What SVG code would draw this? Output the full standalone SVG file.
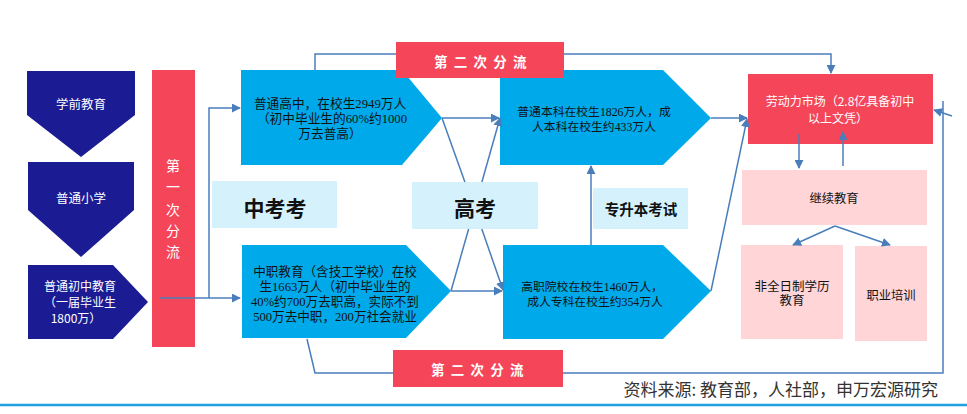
<svg xmlns="http://www.w3.org/2000/svg" width="967" height="414" viewBox="0 0 967 414">
<defs>
<marker id="ah" viewBox="0 0 10 10" refX="9" refY="5" markerWidth="9" markerHeight="9" markerUnits="userSpaceOnUse" orient="auto">
<path d="M0,0 L10,5 L0,10 z" fill="#4A7EBB"/>
</marker>
<style>
.navy{fill:#1B1B93}
.red{fill:#F54558}
.cyan{fill:#00A9EA}
.light{fill:#D5F2FC}
.pink{fill:#FFD5D8}
.wt{fill:#fff;font-family:"Noto Sans CJK SC","Liberation Sans",sans-serif;text-anchor:middle}
.bt{fill:#111;font-family:"Liberation Serif","Noto Sans CJK SC",serif;text-anchor:middle}
.big{fill:#111;font-family:"Noto Sans CJK SC",sans-serif;text-anchor:middle;font-weight:bold}
.c{fill:none;stroke:#4A7EBB;stroke-width:1.5}
.ca{fill:none;stroke:#4A7EBB;stroke-width:1.5;marker-end:url(#ah)}
</style>
</defs>
<rect width="967" height="414" fill="#fff"/>

<g id="xueqian">
<polygon class="navy" points="27,71 135,71 135,115 81,157 27,115"/>
<text class="wt" x="81" y="109" font-size="12.5">学前教育</text>
</g>
<g id="xiaoxue">
<polygon class="navy" points="28,162 134,162 134,210 81,257 28,210"/>
<text class="wt" x="81" y="203" font-size="12.5">普通小学</text>
</g>
<g id="chuzhong">
<polygon class="navy" points="28,265 113,265 148,302 113,339 28,339"/>
<text class="wt" x="80" y="291" font-size="12">普通初中教育</text>
<text class="wt" x="80" y="307" font-size="12">（一届毕业生</text>
<text class="wt" x="76" y="323" font-size="12">1800万）</text>
</g>
<g id="diyici">
<rect class="red" x="152" y="70" width="43" height="277"/>
<text class="wt" x="173" y="171" font-size="14">第</text>
<text class="wt" x="173" y="192" font-size="14">一</text>
<text class="wt" x="173" y="215" font-size="14">次</text>
<text class="wt" x="173" y="236" font-size="14">分</text>
<text class="wt" x="173" y="257" font-size="14">流</text>
</g>
<g id="putonggaozhong">
<polygon class="cyan" points="241,70 402,70 442,118 402,165 241,165"/>
<text class="bt" x="330" y="108" font-size="12.7">普通高中，在校生2949万人</text>
<text class="bt" x="332" y="123" font-size="12.7">（初中毕业生的60%约1000</text>
<text class="bt" x="330" y="138" font-size="12.7">万去普高）</text>
</g>
<g id="zhongzhi">
<polygon class="cyan" points="242,245 406,245 451,291 406,338 242,338"/>
<text class="bt" x="335" y="276" font-size="12.6">中职教育（含技工学校）在校</text>
<text class="bt" x="335" y="291" font-size="12.6">生1663万人（初中毕业生的</text>
<text class="bt" x="335" y="306" font-size="12.6">40%约700万去职高，实际不到</text>
<text class="bt" x="335" y="321" font-size="12.6">500万去中职，200万社会就业</text>
</g>
<g id="zhongkao">
<rect class="light" x="212" y="181" width="125" height="47"/>
<text class="big" x="275" y="216" font-size="21">中考考</text>
</g>
<g id="gaokao">
<rect class="light" x="412" y="182" width="126" height="47"/>
<text class="big" x="475" y="216" font-size="21">高考</text>
</g>
<g id="zhuanshengben">
<rect class="light" x="593" y="188" width="95" height="41"/>
<text class="big" x="641" y="215" font-size="14.5">专升本考试</text>
</g>
<g id="benke">
<polygon class="cyan" points="500,70 663,70 711,118 663,165 500,165"/>
<text class="bt" x="594" y="116" font-size="11.8">普通本科在校生1826万人，成</text>
<text class="bt" x="594" y="131" font-size="11.8">人本科在校生约433万人</text>
</g>
<g id="gaozhi">
<polygon class="cyan" points="503,245 663,245 711,291 663,339 503,339"/>
<text class="bt" x="592" y="291" font-size="11.8">高职院校在校生1460万人，</text>
<text class="bt" x="595" y="306" font-size="11.8">成人专科在校生约354万人</text>
</g>
<g id="dierci-top">
<rect class="red" x="396" y="42" width="168" height="36"/>
<text class="wt" x="481" y="67" font-size="13.5" font-weight="bold" letter-spacing="1.6">第 二 次 分 流</text>
</g>
<g id="dierci-bottom">
<rect class="red" x="393" y="350" width="170" height="37"/>
<text class="wt" x="478" y="375" font-size="13.5" font-weight="bold" letter-spacing="1.6">第 二 次 分 流</text>
</g>
<g id="laodongli">
<rect class="red" x="748" y="74" width="185" height="70"/>
<text class="wt" x="840" y="106" font-size="12">劳动力市场（2.8亿具备初中</text>
<text class="wt" x="838" y="123" font-size="12">以上文凭）</text>
</g>
<g id="jixu">
<rect class="pink" x="742" y="170" width="185" height="55"/>
<text class="bt" x="834" y="203" font-size="12.3">继续教育</text>
</g>
<g id="feiquanrizhi">
<rect class="pink" x="741" y="245" width="102" height="94"/>
<text class="bt" x="792" y="291" font-size="12.5">非全日制学历</text>
<text class="bt" x="792" y="305" font-size="12.5">教育</text>
</g>
<g id="zhiye">
<rect class="pink" x="855" y="246" width="72" height="95"/>
<text class="bt" x="891" y="300" font-size="12.3">职业培训</text>
</g>

<g id="connectors">
<path class="ca" d="M160,298 H240"/>
<path class="ca" d="M209,298 V108 H240"/>
<path class="ca" d="M442,118 H499"/>
<path class="ca" d="M451,291 H502"/>
<path class="c" d="M442,118 L464.9,182"/>
<path class="ca" d="M481.8,229 L503,290"/>
<path class="c" d="M451,291 L468.6,229"/>
<path class="ca" d="M481.9,182 L500,118"/>
<path class="ca" d="M591,245 V166"/>
<path class="ca" d="M711,118 H747"/>
<path class="ca" d="M711,291 L747,119"/>
<path class="c" d="M315,70 V54 H396"/>
<path class="ca" d="M564,54 H831 V73"/>
<path class="c" d="M307,339 L315,373 H393"/>
<path class="c" d="M563,373 H943 V101"/>
<path class="ca" d="M952,116 L934,110"/>
<path class="ca" d="M799,134 V168"/>
<path class="ca" d="M843,166 V132"/>
<path class="ca" d="M835,226 L793,245"/>
<path class="ca" d="M835,226 L890,245"/>
</g>

<text x="938" y="396" font-size="17" fill="#333" text-anchor="end" font-family="'Noto Sans CJK SC','Liberation Sans',sans-serif">资料来源: 教育部，人社部，申万宏源研究</text>
<line x1="0" y1="405" x2="967" y2="405" stroke="#1E9FE0" stroke-width="2.5"/>
</svg>
